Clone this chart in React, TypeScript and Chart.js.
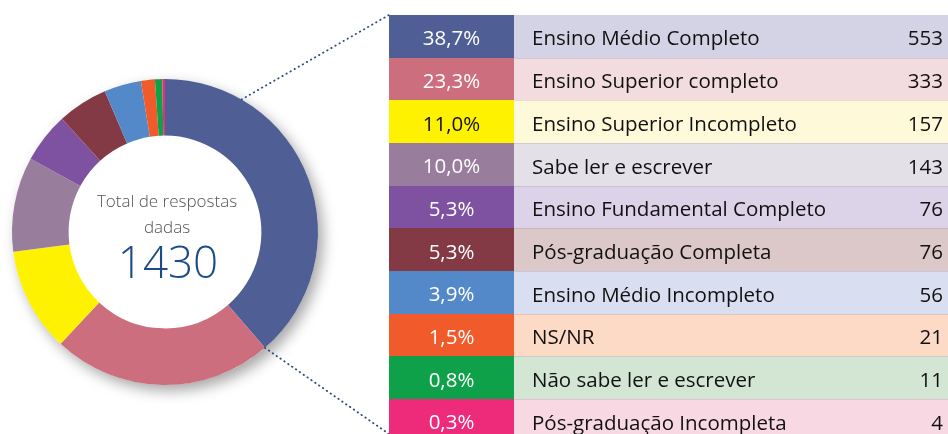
import React, { useEffect, useRef } from "react";
import { Chart, registerables } from "chart.js";

Chart.register(...registerables);

const categories = [
  "Ensino Médio Completo",
  "Ensino Superior completo",
  "Ensino Superior Incompleto",
  "Sabe ler e escrever",
  "Ensino Fundamental Completo",
  "Pós-graduação Completa",
  "Ensino Médio Incompleto",
  "NS/NR",
  "Não sabe ler e escrever",
  "Pós-graduação Incompleta",
];
const counts = [553, 333, 157, 143, 76, 76, 56, 21, 11, 4];
const percentLabels = ["38,7%", "23,3%", "11,0%", "10,0%", "5,3%", "5,3%", "3,9%", "1,5%", "0,8%", "0,3%"];
const sliceColors = ["#4f5f96", "#cc6e7e", "#fff200", "#987d9c", "#7e52a0", "#843a44", "#5389c8", "#f15a2b", "#0fa14a", "#ee2a7b"];
const rowTints = ["#d4d3e6", "#f2dce0", "#fef9d9", "#e4e0e8", "#dcd3e8", "#dcc8c8", "#d9dff0", "#fcdac6", "#d3e6d3", "#f8d8e2"];
const percentTextColors = ["#ffffff", "#ffffff", "#111111", "#ffffff", "#ffffff", "#ffffff", "#ffffff", "#ffffff", "#ffffff", "#ffffff"];
const centerCaption = ["Total de respostas", "dadas"];
const totalLabel = "1430";

const W = 948;
const H = 434;
const TABLE_LEFT = 389;
const TABLE_TOP = 15;
const ROW_H = 42.67;
const PCT_W = 125;
const FONT = "'Open Sans', 'Noto Sans', sans-serif";

const ringShadow = {
  id: "ringShadow",
  beforeDatasetsDraw(chart: any) {
    const arc = chart.getDatasetMeta(0).data[0];
    if (!arc) return;
    const { x, y, outerRadius } = arc.getProps(["x", "y", "outerRadius"], true);
    const ctx = chart.ctx;
    ctx.save();
    ctx.shadowColor = "rgba(0,0,0,0.35)";
    ctx.shadowBlur = 14;
    ctx.shadowOffsetX = 5;
    ctx.shadowOffsetY = 6;
    ctx.fillStyle = "#ffffff";
    ctx.beginPath();
    ctx.arc(x, y, outerRadius, 0, Math.PI * 2);
    ctx.fill();
    ctx.restore();
  },
  afterDraw(chart: any) {
    const meta = chart.getDatasetMeta(0);
    const arc = meta.data[0];
    if (!arc) return;
    const { x, y, outerRadius, endAngle } = arc.getProps(["x", "y", "outerRadius", "endAngle"], true);
    const ctx = chart.ctx;
    ctx.save();
    ctx.textAlign = "center";
    ctx.textBaseline = "alphabetic";
    ctx.fillStyle = "#555555";
    ctx.font = `300 17px ${FONT}`;
    ctx.fillText(centerCaption[0], x + 2, y - 25);
    ctx.fillText(centerCaption[1], x + 2, y + 1);
    ctx.fillStyle = "#1c4b8a";
    ctx.font = `300 44px ${FONT}`;
    ctx.fillText(totalLabel, x + 3, y + 46);
    ctx.strokeStyle = "#2d4a7c";
    ctx.lineWidth = 1.8;
    ctx.lineCap = "round";
    ctx.setLineDash([0.5, 4.2]);
    const topAng = -Math.PI / 2 + (30 * Math.PI) / 180;
    ctx.beginPath();
    ctx.moveTo(x + outerRadius * Math.cos(topAng), y + outerRadius * Math.sin(topAng));
    ctx.lineTo(TABLE_LEFT, TABLE_TOP);
    ctx.stroke();
    ctx.beginPath();
    ctx.moveTo(x + outerRadius * Math.cos(endAngle), y + outerRadius * Math.sin(endAngle));
    ctx.lineTo(TABLE_LEFT, chart.height);
    ctx.stroke();
    ctx.restore();
  },
};

export default function App() {
  const ref = useRef<HTMLCanvasElement | null>(null);
  useEffect(() => {
    if (!ref.current) return;
    const chart = new Chart(ref.current, {
      type: "doughnut",
      data: {
        labels: categories,
        datasets: [
          {
            data: counts,
            backgroundColor: sliceColors,
            borderWidth: 0,
          },
        ],
      },
      options: {
        responsive: false,
        animation: false,
        cutout: "63%",
        rotation: 0,
        layout: { padding: { left: 12, top: 79, right: W - 318, bottom: H - 385 } },
        plugins: { legend: { display: false }, tooltip: { enabled: false } },
      },
      plugins: [ringShadow],
    });
    return () => chart.destroy();
  }, []);

  return (
    <div style={{ position: "absolute", left: 0, top: 0, width: W, height: H, overflow: "hidden", background: "#ffffff" }}>
      <canvas ref={ref} width={W} height={H} style={{ position: "absolute", left: 0, top: 0, width: W, height: H }} />
      <div style={{ position: "absolute", left: TABLE_LEFT, top: TABLE_TOP, width: W - TABLE_LEFT, fontFamily: FONT }}>
        {categories.map((c, i) => (
          <div key={c} style={{ display: "flex", height: ROW_H, alignItems: "stretch" }}>
            <div
              style={{
                width: PCT_W,
                background: sliceColors[i],
                color: percentTextColors[i],
                fontSize: 20.5,
                display: "flex",
                alignItems: "center",
                justifyContent: "center",
                paddingTop: 2,
                boxSizing: "border-box",
              }}
            >
              {percentLabels[i]}
            </div>
            <div
              style={{
                flex: 1,
                background: rowTints[i],
                borderTop: i > 0 ? "1px solid rgba(120,100,130,0.18)" : "none",
                boxSizing: "border-box",
                display: "flex",
                alignItems: "center",
                justifyContent: "space-between",
                padding: "2px 5px 0 18px",
                fontSize: 20.5,
                color: "#111111",
              }}
            >
              <span>{c}</span>
              <span>{counts[i]}</span>
            </div>
          </div>
        ))}
      </div>
    </div>
  );
}
